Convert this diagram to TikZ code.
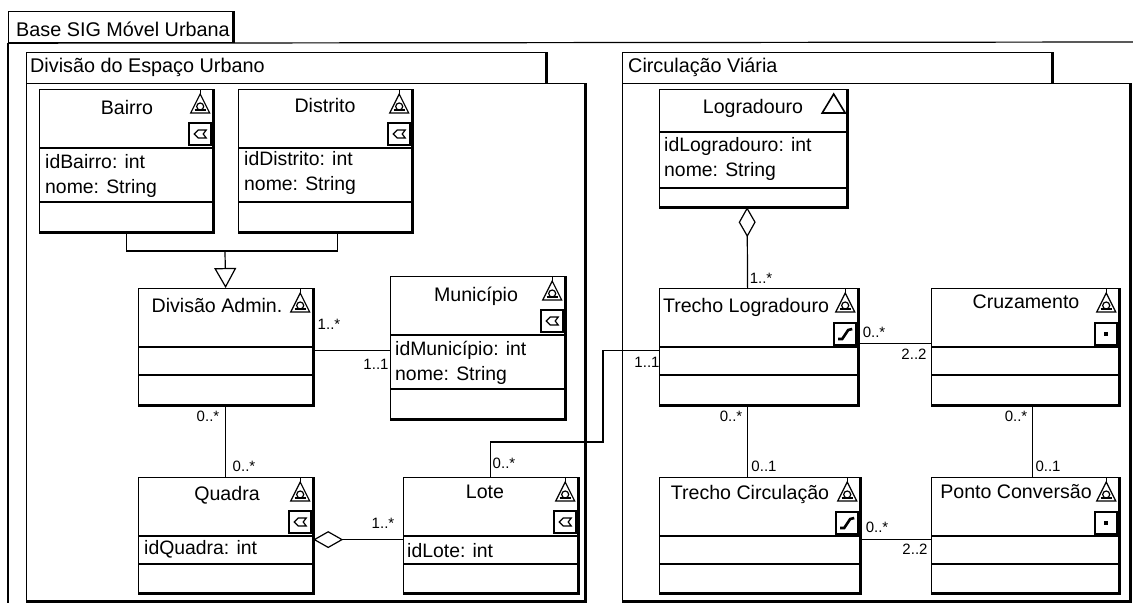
\documentclass[tikz,border=0pt]{standalone}
\usepackage{fontspec}
\setmainfont{Liberation Sans}
\usetikzlibrary{arrows.meta,positioning}
\tikzset{
	auto,semithick,
	pacote/.style = {draw, anchor=north west, inner sep=0pt, line width=1.2pt},
	classe/.style = {draw, anchor=north west, inner sep=0pt, line width=1.2pt},
	sombra/.style = {line width=2.8pt},
	fino/.style = {line width=1.2pt},
	titulo/.style = {inner sep=0pt, font=\fontsize{19.6}{22}\selectfont},
	atrib/.style = {anchor=west, inner sep=0pt, align=left, font=\fontsize{19.4}{25}\selectfont},
	rotulo/.style = {anchor=west, inner sep=0pt, font=\fontsize{19.8}{22}\selectfont},
	mult/.style = {inner sep=0pt, font=\fontsize{15}{17}\selectfont},
	agrega/.style = {{Diamond[open,length=30pt,width=17pt]}-},
	heranca/.style = {-{Triangle[open,length=20pt,width=22pt]}},
	geo/.pic = {
		\draw[fino] (-9.5,0) -- (9.5,0) -- (0,-19) -- cycle;
		\draw[fino] (0,-19) -- (0,-23);
		\draw[fino] (0,-6.5) circle (3.5);
		\draw[fino] (-5.5,-3) -- (5.5,-3);
	},
	poligono/.pic = {
		\draw[line width=1.6pt,fill=white] (-11,-11) rectangle (11,11);
		\draw[fino] (-6,0) -- (-2,-4) -- (6,-4) -- (3,0) -- (6,4) -- (-2,4) -- cycle;
	},
	linha/.pic = {
		\draw[line width=1.6pt,fill=white] (-11,-11) rectangle (11,11);
		\draw[line width=2.6pt] (-7,5) -- (-3,5) -- (3,-4) -- (7,-5);
	},
	ponto/.pic = {
		\draw[line width=1.6pt,fill=white] (-11,-11) rectangle (11,11);
		\fill (-2,-2) rectangle (2,2);
	}
}
\begin{document}
\begin{tikzpicture}[x=1pt,y=-1pt]

    \useasboundingbox (0,0) rectangle (1133,603);

    % pacotes
    \node[pacote, minimum width=224pt, minimum height=31pt] (base) at (8,11) {};
    \coordinate (basefim) at (1133,42);
    \coordinate (basepe) at (8,603);
    \path (base.south west) [fino] edge (basefim);
    \path (base.south west) [fino] edge (basepe);
    \path (base.north east) [sombra] edge (base.south east);
    \node[rotulo] (tbase) at (16,29) {Base SIG Móvel Urbana};

    \node[pacote, minimum width=558pt, minimum height=517pt] (espaco) at (26,83) {};
    \node[pacote, minimum width=519pt, minimum height=31pt] (espacotab) at (26,52) {};
    \node[rotulo] (tespaco) at (30,67) {Divisão do Espaço Urbano};

    \node[pacote, minimum width=507pt, minimum height=517pt] (viaria) at (622,83) {};
    \node[pacote, minimum width=429pt, minimum height=31pt] (viariatab) at (622,52) {};
    \node[rotulo] (tviaria) at (628,67) {Circulação Viária};

    \foreach \p in {espaco,viaria} {
        \draw[sombra] (\p.north east) -- (\p.south east) -- (\p.south west);
    }
    \foreach \p in {espacotab,viariatab} {
        \draw[sombra] (\p.north east) -- (\p.south east);
    }

    % classes
    \node[classe, minimum width=173pt, minimum height=142pt] (bairro) at (39,89) {};
    \node[classe, minimum width=173pt, minimum height=142pt] (distrito) at (238,89) {};
    \node[classe, minimum width=174pt, minimum height=116pt] (divisao) at (138,288) {};
    \node[classe, minimum width=174pt, minimum height=142pt] (municipio) at (390,276) {};
    \node[classe, minimum width=174pt, minimum height=115pt] (quadra) at (138,477) {};
    \node[classe, minimum width=174pt, minimum height=115pt] (lote) at (403,477) {};
    \node[classe, minimum width=187pt, minimum height=117pt] (logradouro) at (659,89) {};
    \node[classe, minimum width=198pt, minimum height=116pt] (trecholog) at (659,288) {};
    \node[classe, minimum width=187pt, minimum height=116pt] (cruzamento) at (931,288) {};
    \node[classe, minimum width=200pt, minimum height=115pt] (trechocirc) at (659,477) {};
    \node[classe, minimum width=187pt, minimum height=115pt] (pontoconv) at (931,477) {};

    \foreach \c/\a/\b in {bairro/148/202,distrito/148/202,divisao/347/375,municipio/335/389,
        quadra/536/564,lote/536/564,logradouro/132/188,trecholog/347/375,cruzamento/347/375,
        trechocirc/536/564,pontoconv/536/564} {
        \draw[fino] (\c.west |- 0,\a) -- (\c.east |- 0,\a);
        \draw[fino] (\c.west |- 0,\b) -- (\c.east |- 0,\b);
        \draw[sombra] (\c.north east) -- (\c.south east) -- (\c.south west);
    }

    \node[titulo] (tbairro) at (127,107) {Bairro};
    \node[titulo] (tdistrito) at (325,105) {Distrito};
    \node[titulo] (tdivisao) at (217,305) {Divisão Admin.};
    \node[titulo] (tmunicipio) at (476,296) {Município};
    \node[titulo] (tquadra) at (227,495) {Quadra};
    \node[titulo] (tlote) at (485,492) {Lote};
    \node[titulo] (tlogradouro) at (753,108) {Logradouro};
    \node[titulo] (ttrecholog) at (746,307) {Trecho Logradouro};
    \node[titulo] (tcruzamento) at (1026,302) {Cruzamento};
    \node[titulo] (ttrechocirc) at (750,494) {Trecho Circulação};
    \node[titulo] (tpontoconv) at (1016,492) {Ponto Conversão};

    \node[atrib] (abairro) at (45,176) {idBairro: int\\nome: String};
    \node[atrib] (adistrito) at (244,173) {idDistrito: int\\nome: String};
    \node[atrib] (amunicipio) at (395,363) {idMunicípio: int\\nome: String};
    \node[atrib] (aquadra) at (144,549) {idQuadra: int};
    \node[atrib] (alote) at (407,551) {idLote: int};
    \node[atrib] (alogradouro) at (664,159) {idLogradouro: int\\nome: String};

    % estereotipos
    \foreach \c in {bairro,distrito,divisao,municipio,quadra,lote,trecholog,cruzamento,trechocirc,pontoconv} {
        \pic at ([xshift=-13pt,yshift=-24pt]\c.north east) {geo};
    }
    \foreach \c in {bairro,distrito,municipio,quadra,lote} {
        \pic at ([xshift=-13pt,yshift=-45pt]\c.north east) {poligono};
    }
    \foreach \c in {trecholog,trechocirc} {
        \pic at ([xshift=-13pt,yshift=-46pt]\c.north east) {linha};
    }
    \foreach \c in {cruzamento,pontoconv} {
        \pic at ([xshift=-13pt,yshift=-46pt]\c.north east) {ponto};
    }
    \draw[line width=1.6pt] ([xshift=-25pt,yshift=-24pt]logradouro.north east) -- ([xshift=-2pt,yshift=-24pt]logradouro.north east) -- ([xshift=-13.5pt,yshift=-5pt]logradouro.north east) -- cycle;

    % associacoes
    \coordinate (juncao) at (225,251);
    \coordinate (dobra) at (603,442);
    \draw[fino] (bairro.south) |- (juncao);
    \draw[fino] ([xshift=12.5pt]distrito.south) |- (juncao);
    \draw[fino,heranca] (juncao) -- (divisao.north);
    \path ([yshift=-4pt]divisao.east) [fino] edge ([yshift=-3pt]municipio.west);
    \path (divisao.south) [fino] edge (quadra.north);
    \draw[fino,agrega] ([yshift=-4.5pt]quadra.east) -- ([yshift=-4.5pt]lote.west);
    \draw[fino] (lote.north) |- (dobra) |- ([yshift=-4pt]trecholog.west);
    \draw[fino,agrega] ([xshift=-6pt]logradouro.south) -- ([xshift=-11pt]trecholog.north);
    \path ([yshift=3pt]trecholog.east) [fino] edge ([yshift=3pt]cruzamento.west);
    \path ([xshift=-11pt]trecholog.south) [fino] edge ([xshift=-12pt]trechocirc.north);
    \path ([xshift=7.5pt]cruzamento.south) [fino] edge ([xshift=7.5pt]pontoconv.north);
    \path ([yshift=-4.5pt]trechocirc.east) [fino] edge ([yshift=-4.5pt]pontoconv.west);

    % multiplicidades
    \node[mult] (m1) at (329,324) {1..*};
    \node[mult] (m2) at (376,364) {1..1};
    \node[mult] (m3) at (208,416) {0..*};
    \node[mult] (m4) at (244,466) {0..*};
    \node[mult] (m5) at (383,523) {1..*};
    \node[mult] (m6) at (504,463) {0..*};
    \node[mult] (m7) at (647,362) {1..1};
    \node[mult] (m8) at (761,278) {1..*};
    \node[mult] (m9) at (874,332) {0..*};
    \node[mult] (m10) at (914,354) {2..2};
    \node[mult] (m11) at (731,416) {0..*};
    \node[mult] (m12) at (764,466) {0..1};
    \node[mult] (m13) at (1016,416) {0..*};
    \node[mult] (m14) at (1048,466) {0..1};
    \node[mult] (m15) at (877,527) {0..*};
    \node[mult] (m16) at (915,549) {2..2};

\end{tikzpicture}
\end{document}
